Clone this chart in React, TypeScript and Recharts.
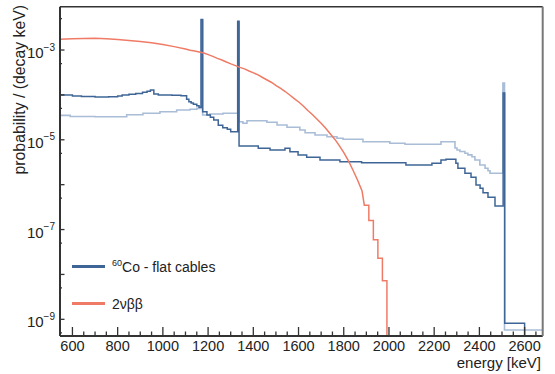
import { LineChart, Line, XAxis, YAxis, Legend } from 'recharts'

// 60Co - flat cables (dark blue), step histogram: bin start energy [keV] / value
const CO_E = [545, 600, 640, 700, 760, 800, 820, 850, 880, 910, 930, 945, 960, 980, 1040, 1080, 1105, 1115, 1125, 1135, 1150, 1160, 1169, 1176, 1195, 1210, 1225, 1245, 1265, 1285, 1300, 1331, 1337, 1422, 1474, 1540, 1562, 1598, 1636, 1695, 1783, 1879, 2075, 2190, 2230, 2252, 2296, 2305, 2336, 2363, 2385, 2403, 2416, 2438, 2469, 2505, 2512, 2600]
const CO_V = [9.9e-5, 9.5e-5, 9.2e-5, 9.0e-5, 9.1e-5, 9.5e-5, 1.0e-4, 1.03e-4, 1.08e-4, 1.14e-4, 1.2e-4, 1.28e-4, 1.05e-4, 1.0e-4, 9.8e-5, 9.6e-5, 8.0e-5, 7.06e-5, 6.6e-5, 6.2e-5, 5.7e-5, 5.3e-5, 4.8e-3, 4.23e-5, 3.57e-5, 3.17e-5, 2.76e-5, 2.1e-5, 1.85e-5, 1.71e-5, 1.51e-5, 4.4e-3, 7.28e-6, 6.47e-6, 5.93e-6, 6.47e-6, 5.43e-6, 4.58e-6, 4.07e-6, 3.55e-6, 3.25e-6, 3.09e-6, 2.75e-6, 3.0e-6, 3.55e-6, 3.68e-6, 3.0e-6, 2.32e-6, 1.79e-6, 1.46e-6, 9.85e-7, 8.3e-7, 6.64e-7, 5.24e-7, 3.36e-7, 1.1e-4, 8.2e-10, 1e-12]

// second 60Co spectrum (light blue, not in legend)
const REF_E = [545, 590, 700, 770, 840, 912, 987, 1061, 1120, 1150, 1169, 1176, 1208, 1266, 1331, 1337, 1354, 1372, 1460, 1505, 1549, 1606, 1629, 1673, 1726, 1770, 1797, 1885, 2004, 2071, 2230, 2292, 2301, 2314, 2336, 2349, 2367, 2380, 2402, 2425, 2438, 2447, 2504, 2511, 2680]
const REF_V = [3.5e-5, 3.3e-5, 3.25e-5, 3.27e-5, 3.6e-5, 3.89e-5, 4.23e-5, 4.61e-5, 4.8e-5, 5.0e-5, 4.6e-3, 3.56e-5, 3.76e-5, 3.89e-5, 4.2e-3, 2.53e-5, 2.33e-5, 2.66e-5, 2.45e-5, 2.14e-5, 1.9e-5, 1.65e-5, 1.44e-5, 1.28e-5, 1.17e-5, 1.08e-5, 1.03e-5, 9.07e-6, 8.36e-6, 7.94e-6, 9.07e-6, 6.56e-6, 5.93e-6, 5.5e-6, 5.0e-6, 4.6e-6, 4.2e-6, 3.55e-6, 2.75e-6, 2.32e-6, 2.05e-6, 1.79e-6, 1.84e-4, 5.8e-10, 5.8e-10]

// 2vbb (red): smooth spectrum, coarse steps in the tail (repeated energies = step edges)
const BB_E = [545, 600, 650, 700, 750, 800, 850, 900, 950, 1000, 1050, 1100, 1121, 1141, 1161, 1181, 1201, 1221, 1241, 1261, 1281, 1301, 1321, 1341, 1361, 1381, 1401, 1421, 1441, 1461, 1481, 1501, 1521, 1541, 1561, 1581, 1601, 1621, 1641, 1661, 1681, 1701, 1721, 1741, 1761, 1781, 1801, 1821, 1841, 1861, 1881, 1891, 1911, 1911, 1931, 1931, 1951, 1951, 1971, 1971, 1991, 1991]
const BB_V = [1.73e-3, 1.78e-3, 1.81e-3, 1.82e-3, 1.79e-3, 1.72e-3, 1.64e-3, 1.55e-3, 1.45e-3, 1.33e-3, 1.19e-3, 1.05e-3, 9.9e-4, 9.5e-4, 9.0e-4, 8.57e-4, 7.9e-4, 7.2e-4, 6.5e-4, 6.0e-4, 5.4e-4, 4.9e-4, 4.5e-4, 4.1e-4, 3.8e-4, 3.4e-4, 3.1e-4, 2.8e-4, 2.44e-4, 2.15e-4, 1.89e-4, 1.62e-4, 1.39e-4, 1.19e-4, 9.95e-5, 8.3e-5, 6.95e-5, 5.66e-5, 4.5e-5, 3.66e-5, 2.9e-5, 2.3e-5, 1.79e-5, 1.35e-5, 1.02e-5, 7.3e-6, 5.1e-6, 3.4e-6, 2.1e-6, 1.27e-6, 7.2e-7, 3.5e-7, 3.5e-7, 1.6e-7, 1.6e-7, 5.9e-8, 5.9e-8, 2.3e-8, 2.3e-8, 7.2e-9, 7.2e-9, 1e-12]

const X_TICKS = [600, 650, 700, 750, 800, 850, 900, 950, 1000, 1050, 1100, 1150, 1200, 1250, 1300, 1350, 1400, 1450, 1500, 1550, 1600, 1650, 1700, 1750, 1800, 1850, 1900, 1950, 2000, 2050, 2100, 2150, 2200, 2250, 2300, 2350, 2400, 2450, 2500, 2550, 2600, 2650]
const X_LABELS = [600, 800, 1000, 1200, 1400, 1600, 1800, 2000, 2200, 2400, 2600]
const Y_TICKS = [5e-3, 1e-3, 5e-4, 1e-4, 5e-5, 1e-5, 5e-6, 1e-6, 5e-7, 1e-7, 5e-8, 1e-8, 5e-9, 1e-9, 5e-10]
const Y_LABELS = [1e-3, 1e-5, 1e-7, 1e-9]
const LEGEND_ORDER = ['60Co - flat cables', '2νββ']

const DARK = '#3f6597'
const LIGHT = '#a9bdd7'
const RED = '#ef7b66'
const AXIS = '#333'
const FONT = '"Liberation Sans", Arial, Helvetica, sans-serif'

const LEFT = 60
const BOTTOM = 336

const zip = (e: number[], v: number[]) => e.map((x, i) => ({ e: x, v: v[i] }))

function XTick({ x, payload }: any) {
  const major = X_LABELS.includes(payload.value)
  return (
    <g>
      <line x1={x} x2={x} y1={BOTTOM} y2={BOTTOM - (major ? 9 : 4.5)} stroke={AXIS} strokeWidth={1.3} />
      {major && (
        <text x={x} y={350.5} textAnchor="middle" fontSize={14.5} fontFamily={FONT} fill="#222">
          {payload.value}
        </text>
      )}
    </g>
  )
}

function YTick({ y, payload }: any) {
  const v = payload.value
  const exp = Math.round(Math.log10(v))
  const decade = Math.abs(v / Math.pow(10, exp) - 1) < 1e-6
  const labeled = Y_LABELS.includes(v)
  return (
    <g>
      <line x1={LEFT} x2={LEFT + (decade ? 4.5 : 2)} y1={y} y2={y} stroke={AXIS} strokeWidth={1.3} />
      {labeled && (
        <text x={55} y={y + 8} textAnchor="end" fontSize={15} fontFamily={FONT} fill="#222">
          10
          <tspan fontSize={10} dy={-7.5}>{'\u2212' + Math.abs(exp)}</tspan>
        </text>
      )}
    </g>
  )
}

function renderLegend(props: any) {
  const items = (props.payload ?? [])
    .filter((p: any) => LEGEND_ORDER.includes(p.value))
    .sort((a: any, b: any) => LEGEND_ORDER.indexOf(a.value) - LEGEND_ORDER.indexOf(b.value))
  return (
    <div style={{ fontFamily: FONT, fontSize: 14, color: '#222' }}>
      {items.map((p: any) => {
        const m = /^(\d+)([A-Z].*)$/.exec(p.value)
        return (
          <div key={p.value} style={{ display: 'flex', alignItems: 'center', height: 37 }}>
            <span style={{ display: 'inline-block', width: 33, height: 3, background: p.color, marginRight: 7 }} />
            <span>
              {m ? (<><sup style={{ fontSize: 9 }}>{m[1]}</sup>{m[2]}</>) : p.value}
            </span>
          </div>
        )
      })}
    </div>
  )
}

export default function App() {
  return (
    <div style={{ position: 'absolute', left: 0, top: 0, width: 555, height: 374, background: '#fff' }}>
      <LineChart width={555} height={374} margin={{ top: 5.7, right: 11.3, bottom: 37, left: LEFT - 1 }}>
        <XAxis dataKey="e" type="number" domain={[545, 2680]} allowDataOverflow ticks={X_TICKS} interval={0}
          tick={<XTick />} tickLine={false} height={1} axisLine={{ stroke: AXIS, strokeWidth: 2 }} />
        <XAxis xAxisId="top" orientation="top" dataKey="e" type="number" domain={[545, 2680]} tick={false} tickLine={false}
          height={1} axisLine={{ stroke: AXIS, strokeWidth: 1.5 }} />
        <YAxis scale="log" type="number" domain={[4.25e-10, 9.23e-3]} allowDataOverflow ticks={Y_TICKS} interval={0}
          tick={<YTick />} tickLine={false} width={1} axisLine={{ stroke: AXIS, strokeWidth: 2 }} />
        <YAxis yAxisId="right" orientation="right" type="number" domain={[0, 1]} tick={false} tickLine={false}
          width={1} axisLine={{ stroke: '#777', strokeWidth: 2 }} />
        <Line data={zip(REF_E, REF_V)} dataKey="v" type="stepAfter" stroke={LIGHT} strokeWidth={1.6} dot={false}
          activeDot={false} legendType="none" isAnimationActive={false} />
        <Line data={zip(CO_E, CO_V)} dataKey="v" name="60Co - flat cables" type="stepAfter" stroke={DARK} strokeWidth={1.5}
          dot={false} activeDot={false} isAnimationActive={false} />
        <Line data={zip(BB_E, BB_V)} dataKey="v" name="2νββ" type="linear" stroke={RED} strokeWidth={1.5}
          dot={false} activeDot={false} isAnimationActive={false} />
        <Legend content={renderLegend} layout="horizontal" verticalAlign="middle" align="center"
          wrapperStyle={{ position: 'absolute', left: 72, top: 248, width: 200 }} />
        <text x={541} y={367.5} textAnchor="end" fontSize={15} fontFamily={FONT} fill="#222">energy [keV]</text>
        <text transform="translate(25,5) rotate(-90)" textAnchor="end" fontSize={15.8} fontFamily={FONT} fill="#222">
          probability / (decay keV)
        </text>
      </LineChart>
    </div>
  )
}
